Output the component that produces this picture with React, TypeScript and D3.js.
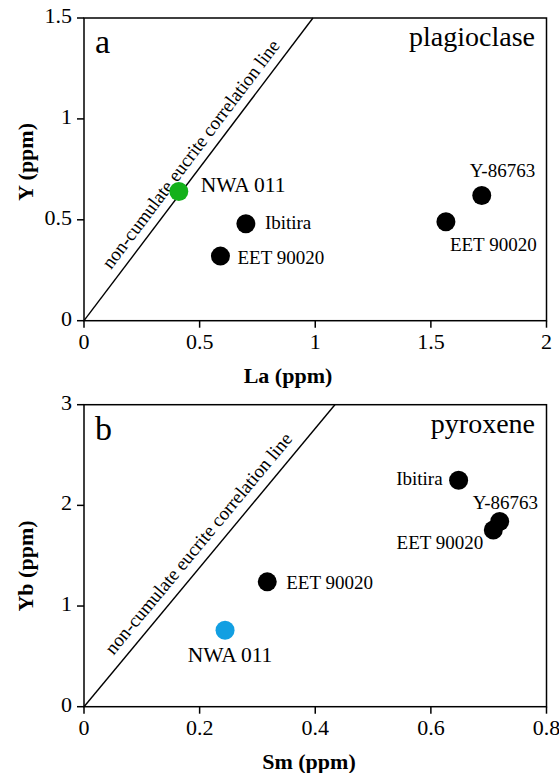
import React from "react";
import * as d3 from "d3";

// ---- data ----
const plagNames = ["NWA 011", "Ibitira", "EET 90020", "EET 90020", "Y-86763"];
const plagLa = [0.41, 0.70, 0.59, 1.565, 1.72];
const plagY = [0.64, 0.48, 0.32, 0.49, 0.62];
const plagColors = ["#14b11a", "#000", "#000", "#000", "#000"];

const pyxNames = ["Ibitira", "EET 90020", "Y-86763", "EET 90020", "NWA 011"];
const pyxSm = [0.648, 0.708, 0.719, 0.317, 0.244];
const pyxYb = [2.25, 1.755, 1.84, 1.24, 0.76];
const pyxColors = ["#000", "#000", "#000", "#000", "#129fe2"];

const plagXTicks = [0, 0.5, 1, 1.5, 2];
const plagYTicks = [0, 0.5, 1, 1.5];
const pyxXTicks = [0, 0.2, 0.4, 0.6, 0.8];
const pyxYTicks = [0, 1, 2, 3];

const plagLine = [[0, 0], [0.99, 1.5]];
const pyxLine = [[0, 0], [0.434, 3]];

// label placement (pixel offsets from point, anchor, font size)
const plagLabelStyle = [
  { dx: 22, dy: 0, anchor: "start", fs: 21.5 },
  { dx: 19, dy: 5, anchor: "start", fs: 19 },
  { dx: 17, dy: 7.5, anchor: "start", fs: 19 },
  { dx: 4, dy: 29, anchor: "start", fs: 19 },
  { dx: -12, dy: -19, anchor: "start", fs: 19 },
];
const pyxLabelStyle = [
  { dx: -16, dy: 5, anchor: "end", fs: 19 },
  { dx: -10, dy: 19, anchor: "end", fs: 19 },
  { dx: -27, dy: -12.5, anchor: "start", fs: 19 },
  { dx: 19, dy: 7, anchor: "start", fs: 19 },
  { dx: 5, dy: 31.5, anchor: "middle", fs: 21.5 },
];

const SERIF = "'Liberation Serif', 'Times New Roman', serif";

type PanelProps = {
  top: number;
  bottom: number;
  xDomain: [number, number];
  yDomain: [number, number];
  xTicks: number[];
  yTicks: number[];
  xs: number[];
  ys: number[];
  names: string[];
  colors: string[];
  labelStyle: { dx: number; dy: number; anchor: string; fs: number }[];
  corr: number[][];
  corrOffset: number;
  corrT: number;
  letter: string;
  mineral: string;
  xTitle: string;
  xTitleX: number;
  yTitle: string;
  yTitleY: number;
};

function Panel(p: PanelProps) {
  const left = 84;
  const right = 546.5;
  const x = d3.scaleLinear().domain(p.xDomain).range([left, right]);
  const y = d3.scaleLinear().domain(p.yDomain).range([p.bottom, p.top]);
  const fmt = (v: number) => String(v);

  const x0 = x(p.corr[0][0]);
  const y0 = y(p.corr[0][1]);
  const x1 = x(p.corr[1][0]);
  const y1 = y(p.corr[1][1]);
  const len = Math.hypot(x1 - x0, y1 - y0);
  const ux = (x1 - x0) / len;
  const uy = (y1 - y0) / len;
  const nx = uy; // normal pointing up-left
  const ny = -ux;
  const angle = (Math.atan2(y1 - y0, x1 - x0) * 180) / Math.PI;
  const cx = x0 + (x1 - x0) * p.corrT + nx * p.corrOffset;
  const cy = y0 + (y1 - y0) * p.corrT + ny * p.corrOffset;
  const linePath = d3.line()([[x0, y0], [x1, y1]]) || "";

  return (
    <g>
      {/* correlation line */}
      <path d={linePath} stroke="#000" strokeWidth={1.4} fill="none" />
      <text
        transform={`translate(${cx},${cy}) rotate(${angle})`}
        textAnchor="middle"
        fontFamily={SERIF}
        fontSize={19}
      >
        non-cumulate eucrite correlation line
      </text>
      {/* frame */}
      <rect
        x={left}
        y={p.top}
        width={right - left}
        height={p.bottom - p.top}
        fill="none"
        stroke="#000"
        strokeWidth={1.5}
      />
      {/* ticks */}
      {p.xTicks.map((t, i) => (
        <g key={"xt" + i}>
          <line x1={x(t)} x2={x(t)} y1={p.bottom} y2={p.bottom + 7} stroke="#000" strokeWidth={1.5} />
          <text x={x(t)} y={p.bottom + 28.5} textAnchor="middle" fontFamily={SERIF} fontSize={22}>
            {fmt(t)}
          </text>
        </g>
      ))}
      {p.yTicks.map((t, i) => (
        <g key={"yt" + i}>
          <line x1={left - 7} x2={left} y1={y(t)} y2={y(t)} stroke="#000" strokeWidth={1.5} />
          <text x={72} y={y(t) + 5} textAnchor="end" fontFamily={SERIF} fontSize={22}>
            {fmt(t)}
          </text>
        </g>
      ))}
      {/* axis titles */}
      <text
        x={p.xTitleX}
        y={p.bottom + 62}
        textAnchor="middle"
        fontFamily={SERIF}
        fontWeight="bold"
        fontSize={22}
      >
        {p.xTitle}
      </text>
      <text
        transform={`translate(33,${p.yTitleY}) rotate(-90)`}
        textAnchor="middle"
        fontFamily={SERIF}
        fontWeight="bold"
        fontSize={22}
      >
        {p.yTitle}
      </text>
      {/* panel letter & mineral */}
      <text x={95} y={p.top + 35} fontFamily={SERIF} fontSize={34}>
        {p.letter}
      </text>
      <text x={535} y={p.top + 28} textAnchor="end" fontFamily={SERIF} fontSize={28}>
        {p.mineral}
      </text>
      {/* points */}
      {p.xs.map((v, i) => (
        <circle key={"pt" + i} cx={x(v)} cy={y(p.ys[i])} r={9.5} fill={p.colors[i]} />
      ))}
      {p.xs.map((v, i) => {
        const s = p.labelStyle[i];
        return (
          <text
            key={"lb" + i}
            x={x(v) + s.dx}
            y={y(p.ys[i]) + s.dy}
            textAnchor={s.anchor}
            fontFamily={SERIF}
            fontSize={s.fs}
          >
            {p.names[i]}
          </text>
        );
      })}
    </g>
  );
}

export default function App() {
  return (
    <svg
      width={559}
      height={773}
      style={{ position: "absolute", left: 0, top: 0, background: "#fff" }}
    >
      <rect width={559} height={773} fill="#fff" />
      <Panel
        top={18}
        bottom={320.7}
        xDomain={[0, 2]}
        yDomain={[0, 1.5]}
        xTicks={plagXTicks}
        yTicks={plagYTicks}
        xs={plagLa}
        ys={plagY}
        names={plagNames}
        colors={plagColors}
        labelStyle={plagLabelStyle}
        corr={plagLine}
        corrOffset={9}
        corrT={0.52}
        letter="a"
        mineral="plagioclase"
        xTitle="La (ppm)"
        xTitleX={288}
        yTitle="Y (ppm)"
        yTitleY={162}
      />
      <Panel
        top={404.7}
        bottom={706.7}
        xDomain={[0, 0.8]}
        yDomain={[0, 3]}
        xTicks={pyxXTicks}
        yTicks={pyxYTicks}
        xs={pyxSm}
        ys={pyxYb}
        names={pyxNames}
        colors={pyxColors}
        labelStyle={pyxLabelStyle}
        corr={pyxLine}
        corrOffset={10}
        corrT={0.506}
        letter="b"
        mineral="pyroxene"
        xTitle="Sm (ppm)"
        xTitleX={309}
        yTitle="Yb (ppm)"
        yTitleY={566}
      />
    </svg>
  );
}
